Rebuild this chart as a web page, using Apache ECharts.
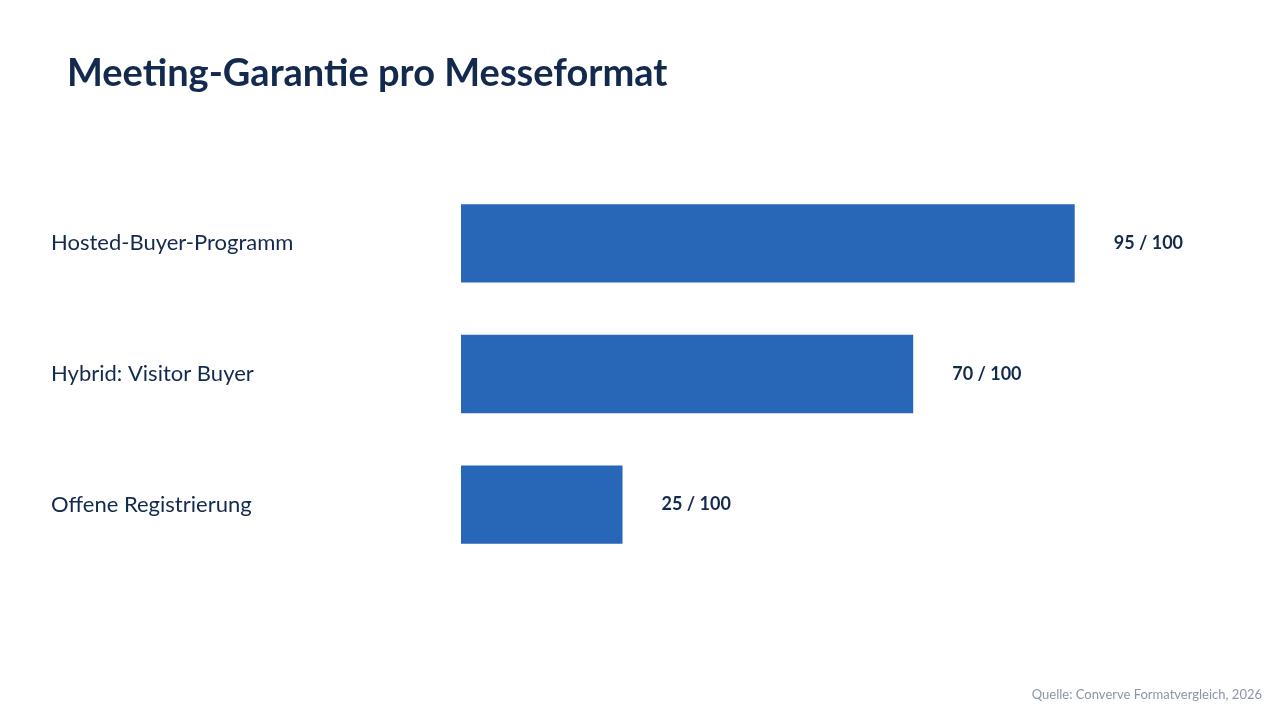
<!DOCTYPE html>
<html>
<head>
<meta charset="utf-8">
<script src="https://cdn.jsdelivr.net/npm/echarts@6/dist/echarts.min.js"></script>
<style>
  html, body { margin: 0; padding: 0; background: #fff; }
  #chart { width: 1280px; height: 720px; }
</style>
</head>
<body>
<div id="chart"></div>
<script>
const categories = ['Hosted-Buyer-Programm', 'Hybrid: Visitor Buyer', 'Offene Registrierung'];
const scores = [95, 70, 25];
const maxScore = 100;

const navy = '#132a4e';
const chart = echarts.init(document.getElementById('chart'));
chart.setOption({
    backgroundColor: '#ffffff',
    title: [
        {
            text: 'Meeting-Garantie pro Messeformat',
            left: 62, top: 50,
            textStyle: { fontFamily: 'Lato', fontWeight: 'bold', fontSize: 38, color: navy }
        },
        {
            text: 'Quelle: Converve Formatvergleich, 2026',
            right: 13, bottom: 14,
            textStyle: { fontFamily: 'Lato', fontWeight: 'normal', fontSize: 13, color: '#8a96a8' }
        }
    ],
    grid: { left: 461, right: 173, top: 178, bottom: 150, containLabel: false },
    xAxis: {
        type: 'value', min: 0, max: maxScore,
        show: false
    },
    yAxis: {
        type: 'category',
        data: categories,
        inverse: true,
        axisLine: { show: false },
        axisTick: { show: false },
        axisLabel: {
            align: 'left', margin: 410,
            fontFamily: 'Lato', fontSize: 22, color: navy
        }
    },
    series: [{
        type: 'bar',
        data: scores,
        barWidth: '60%',
        itemStyle: { color: '#2866b8' },
        label: {
            show: true, position: 'right', distance: 39,
            formatter: p => p.value + ' / ' + maxScore,
            fontFamily: 'Lato', fontWeight: 'bold', fontSize: 18, color: navy
        }
    }]
});
</script>
</body>
</html>
